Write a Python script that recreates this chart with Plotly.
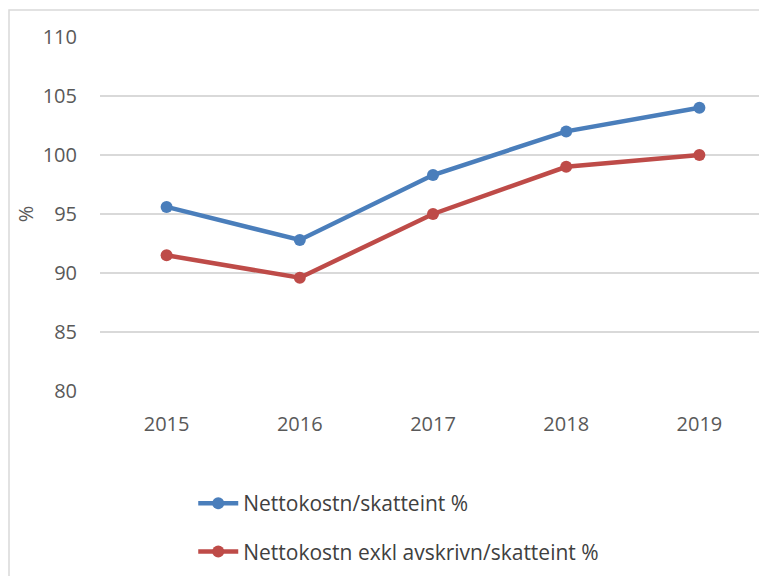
import plotly.graph_objects as go

years = ["2015", "2016", "2017", "2018", "2019"]
netto = [95.6, 92.8, 98.3, 102.0, 104.0]
netto_exkl = [91.5, 89.6, 95.0, 99.0, 100.0]
names = ["Nettokostn/skatteint %", "Nettokostn exkl avskrivn/skatteint %"]
colors = ["#4a7ebb", "#be4b48"]

fig = go.Figure()
for i, (vals, nm, col) in enumerate(zip([netto, netto_exkl], names, colors)):
    fig.add_trace(go.Scatter(
        x=years, y=vals, name=nm, mode="lines+markers",
        line=dict(color=col, width=4.5),
        marker=dict(color=col, size=12),
        legendgroup=f"g{i}",
    ))

W, H = 759, 568
L, R, T, B = 92, 1, 29, 185
pw, ph = W - L - R, H - T - B
fig.update_layout(
    width=W, height=H,
    margin=dict(l=L, r=R, t=T, b=B),
    paper_bgcolor="white", plot_bgcolor="white",
    font=dict(family="Open Sans, Liberation Sans, sans-serif", size=20, color="#595959"),
    showlegend=True,
    legend=dict(x=0.140, y=-0.260, xanchor="left", yanchor="top",
                traceorder="grouped", tracegroupgap=18,
                font=dict(size=21, color="#404040"), itemwidth=40),
    xaxis=dict(type="category", range=[-0.5, 4.5], showgrid=False, showline=False,
               zeroline=False, ticks="outside", ticklen=15, tickcolor="rgba(0,0,0,0)",
               tickfont=dict(size=20, color="#595959")),
    yaxis=dict(range=[80, 110], dtick=5, showgrid=True, gridcolor="#d9d9d9",
               gridwidth=1.5, zeroline=False, showline=False, ticks="outside",
               ticklen=18, tickcolor="rgba(0,0,0,0)",
               tickfont=dict(size=20, color="#595959"),
               title=dict(text="%", font=dict(size=20, color="#595959"), standoff=3)),
    shapes=[dict(type="rect", xref="paper", yref="paper",
                 x0=(1 - L) / pw, x1=(W + 10 - L) / pw,
                 y0=(ph + T - H - 10) / ph, y1=(ph + T - 2) / ph,
                 line=dict(color="#d9d9d9", width=1.5), fillcolor="rgba(0,0,0,0)",
                 layer="above")],
)

fig.write_html("out.html")
